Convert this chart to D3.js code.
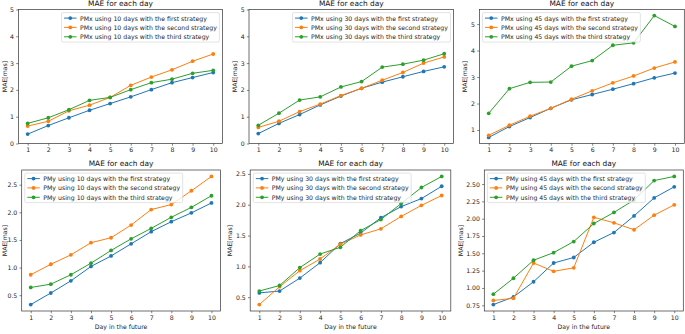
<!DOCTYPE html>
<html>
<head>
<meta charset="utf-8">
<script src="https://cdn.jsdelivr.net/npm/d3@7"></script>
<style>
  body { margin: 0; background: #fff; }
  svg { display: block; font-family: "DejaVu Sans", sans-serif; }
</style>
</head>
<body>
<svg id="chart" width="685" height="334"></svg>
<script>
// ---- data ----
var days = [1, 2, 3, 4, 5, 6, 7, 8, 9, 10];
var strategyNames = ['first', 'second', 'third'];

var pmx10First  = [0.35, 0.67, 0.96, 1.24, 1.49, 1.74, 2.01, 2.27, 2.46, 2.65];
var pmx10Second = [0.65, 0.83, 1.22, 1.43, 1.72, 2.17, 2.48, 2.75, 3.07, 3.34];
var pmx10Third  = [0.75, 0.96, 1.26, 1.61, 1.72, 2.01, 2.27, 2.40, 2.62, 2.73];

var pmx30First  = [0.37, 0.75, 1.08, 1.44, 1.77, 2.06, 2.29, 2.49, 2.69, 2.86];
var pmx30Second = [0.60, 0.83, 1.19, 1.47, 1.79, 2.06, 2.36, 2.65, 3.00, 3.23];
var pmx30Third  = [0.68, 1.13, 1.62, 1.74, 2.11, 2.31, 2.85, 2.96, 3.11, 3.35];

var pmx45First  = [0.72, 1.13, 1.47, 1.82, 2.14, 2.34, 2.54, 2.75, 2.97, 3.15];
var pmx45Second = [0.80, 1.18, 1.52, 1.82, 2.16, 2.48, 2.78, 3.04, 3.34, 3.57];
var pmx45Third  = [1.63, 2.56, 2.80, 2.81, 3.41, 3.62, 4.20, 4.29, 5.32, 4.91];

var pmy10First  = [0.33, 0.54, 0.76, 1.02, 1.21, 1.43, 1.65, 1.83, 1.99, 2.17];
var pmy10Second = [0.87, 1.06, 1.23, 1.45, 1.54, 1.77, 2.05, 2.14, 2.39, 2.65];
var pmy10Third  = [0.64, 0.70, 0.87, 1.08, 1.31, 1.52, 1.71, 1.91, 2.09, 2.30];

var pmy30First  = [0.57, 0.60, 0.81, 1.06, 1.37, 1.54, 1.79, 1.97, 2.10, 2.30];
var pmy30Second = [0.38, 0.67, 0.93, 1.12, 1.36, 1.51, 1.61, 1.81, 1.99, 2.15];
var pmy30Third  = [0.60, 0.69, 0.98, 1.20, 1.31, 1.58, 1.76, 2.02, 2.28, 2.46];

var pmy45First  = [0.76, 0.87, 1.09, 1.36, 1.44, 1.66, 1.80, 2.04, 2.30, 2.46];
var pmy45Second = [0.82, 0.85, 1.36, 1.24, 1.29, 2.02, 1.94, 1.84, 2.05, 2.20];
var pmy45Third  = [0.91, 1.14, 1.40, 1.51, 1.67, 1.93, 2.09, 2.27, 2.55, 2.61];

var yTicksZeroToFive = [0, 1, 2, 3, 4, 5];
var yTicksOneToFive = [1, 2, 3, 4, 5];
var yTicksHalf = [0.5, 1.0, 1.5, 2.0, 2.5];
var yTicksQuarter = [0.75, 1.00, 1.25, 1.50, 1.75, 2.00, 2.25, 2.50];

// ---- look ----
var colors = ['#1f77b4', '#ff7f0e', '#2ca02c'];
var fs = 6.2;        // tick / legend / label size
var titleSize = 7.4;
var textColor = '#262626';

var svg = d3.select('#chart');

// panel layout (boxes of each axes)
var panels = [
  { comp: 'PMx', n: 10, data: [pmx10First, pmx10Second, pmx10Third], yLim: [0, 5], yTicks: yTicksZeroToFive, fmt: 'd',
    left: 18.4, right: 222.5, top: 9.5, bottom: 143.5, legend: 'right', xLabel: false },
  { comp: 'PMx', n: 30, data: [pmx30First, pmx30Second, pmx30Third], yLim: [0, 5], yTicks: yTicksZeroToFive, fmt: 'd',
    left: 249, right: 453.5, top: 9.5, bottom: 143.5, legend: 'right', xLabel: false },
  { comp: 'PMx', n: 45, data: [pmx45First, pmx45Second, pmx45Third], yLim: null, yTicks: yTicksOneToFive, fmt: 'd',
    left: 479.4, right: 684.3, top: 9.5, bottom: 143.5, legend: 'left', xLabel: false },
  { comp: 'PMy', n: 10, data: [pmy10First, pmy10Second, pmy10Third], yLim: null, yTicks: yTicksHalf, fmt: '.1f',
    left: 21.7, right: 220.5, top: 170, bottom: 311, legend: 'left', xLabel: true },
  { comp: 'PMy', n: 30, data: [pmy30First, pmy30Second, pmy30Third], yLim: null, yTicks: yTicksHalf, fmt: '.1f',
    left: 250.2, right: 450.8, top: 170, bottom: 311, legend: 'left', xLabel: true },
  { comp: 'PMy', n: 45, data: [pmy45First, pmy45Second, pmy45Third], yLim: null, yTicks: yTicksQuarter, fmt: '.2f',
    left: 484.3, right: 683.3, top: 170, bottom: 311, legend: 'left', xLabel: true }
];

function drawPanel(p) {
  var g = svg.append('g');

  var x = d3.scaleLinear().domain([0.55, 10.45]).range([p.left, p.right]);

  // matplotlib style 5% margins when no limits are set
  var yDomain = p.yLim;
  if (!yDomain) {
    var ext = d3.extent(d3.merge(p.data));
    var m = (ext[1] - ext[0]) * 0.05;
    yDomain = [ext[0] - m, ext[1] + m];
  }
  var y = d3.scaleLinear().domain(yDomain).range([p.bottom, p.top]);

  // axes
  var gx = g.append('g')
    .attr('transform', 'translate(0,' + p.bottom + ')')
    .call(d3.axisBottom(x).tickValues(days).tickFormat(d3.format('d'))
      .tickSizeInner(2.2).tickSizeOuter(0).tickPadding(2.2));

  var gy = g.append('g')
    .attr('transform', 'translate(' + p.left + ',0)')
    .call(d3.axisLeft(y).tickValues(p.yTicks).tickFormat(d3.format(p.fmt))
      .tickSizeInner(2.2).tickSizeOuter(0).tickPadding(2.2));

  [gx, gy].forEach(function(a) {
    a.select('.domain').remove();
    a.selectAll('line').attr('stroke', '#333').attr('stroke-width', 0.6);
    a.selectAll('text').attr('font-size', fs).attr('fill', textColor)
      .attr('font-family', '"DejaVu Sans", sans-serif');
  });

  // frame
  g.append('rect')
    .attr('x', p.left).attr('y', p.top)
    .attr('width', p.right - p.left).attr('height', p.bottom - p.top)
    .attr('fill', 'none').attr('stroke', '#333').attr('stroke-width', 0.7);

  // lines + markers
  var line = d3.line().x(function(d, i) { return x(days[i]); }).y(function(d) { return y(d); });
  p.data.forEach(function(vals, k) {
    g.append('path').datum(vals)
      .attr('d', line).attr('fill', 'none')
      .attr('stroke', colors[k]).attr('stroke-width', 1);
    g.selectAll(null).data(vals).enter().append('circle')
      .attr('cx', function(d, i) { return x(days[i]); })
      .attr('cy', function(d) { return y(d); })
      .attr('r', 1.9).attr('fill', colors[k]);
  });

  // title
  g.append('text')
    .attr('x', (p.left + p.right) / 2).attr('y', p.top - 3.7)
    .attr('text-anchor', 'middle').attr('font-size', titleSize).attr('fill', '#111')
    .text('MAE for each day');

  // y label, left of the tick labels (kept inside the page)
  var yb = gy.node().getBBox();
  var ylx = Math.max(4, p.left + yb.x - 2.5 - 3.6);
  g.append('text')
    .attr('transform', 'translate(' + ylx + ',' + ((p.top + p.bottom) / 2) + ') rotate(-90)')
    .attr('text-anchor', 'middle').attr('dominant-baseline', 'central')
    .attr('font-size', fs).attr('fill', textColor)
    .text('MAE[mas]');

  // x label
  if (p.xLabel) {
    var xb = gx.node().getBBox();
    g.append('text')
      .attr('x', (p.left + p.right) / 2)
      .attr('y', p.bottom + xb.y + xb.height + 2.5 + 3.6)
      .attr('text-anchor', 'middle').attr('dominant-baseline', 'central')
      .attr('font-size', fs).attr('fill', textColor)
      .text('Day in the future');
  }

  // legend
  var lg = g.append('g');
  var box = lg.append('rect');
  var rowOffsets = [5.5, 14.8, 24.2];
  var labels = strategyNames.map(function(s) {
    return p.comp + ' using ' + p.n + ' days with the ' + s + ' strategy';
  });
  var maxW = 0;
  labels.forEach(function(lbl, k) {
    var ry = rowOffsets[k];
    lg.append('line').attr('x1', 2.5).attr('x2', 15).attr('y1', ry).attr('y2', ry)
      .attr('stroke', colors[k]).attr('stroke-width', 1);
    lg.append('circle').attr('cx', 8.75).attr('cy', ry).attr('r', 1.9).attr('fill', colors[k]);
    var t = lg.append('text').attr('x', 18.5).attr('y', ry)
      .attr('dominant-baseline', 'central')
      .attr('font-size', fs).attr('fill', textColor).text(lbl);
    maxW = Math.max(maxW, t.node().getComputedTextLength());
  });
  var bw = 18.5 + maxW + 2.5;
  var bh = 29.5;
  box.attr('width', bw).attr('height', bh).attr('rx', 1.5)
    .attr('fill', 'rgba(255,255,255,0.8)').attr('stroke', '#d0d0d0').attr('stroke-width', 0.6);
  var lx = p.legend === 'right' ? p.right - 3.1 - bw : p.left + 3.1;
  lg.attr('transform', 'translate(' + lx + ',' + (p.top + 3.1) + ')');
}

panels.forEach(drawPanel);
</script>
</body>
</html>
